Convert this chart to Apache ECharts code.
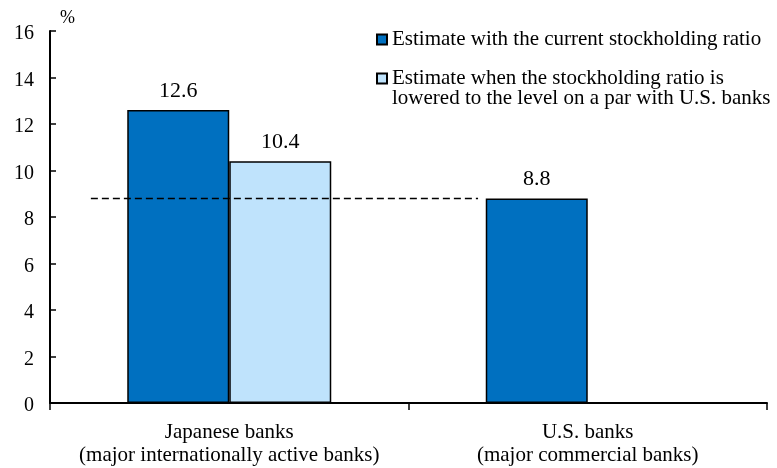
<!DOCTYPE html>
<html>
<head>
<meta charset="utf-8">
<script src="https://cdn.jsdelivr.net/npm/echarts@6/dist/echarts.min.js"></script>
<style>
  html, body { margin: 0; padding: 0; background: #fff; }
  #chart { width: 777px; height: 468px; }
</style>
</head>
<body>
<div id="chart"></div>
<script>
// Categories and series values
const categories = [
  'Japanese banks\n(major internationally active banks)',
  'U.S. banks\n(major commercial banks)'
];
const currentRatio = [12.6, 8.8];
const loweredRatio = [10.4, null];
const seriesNames = [
  'Estimate with the current stockholding ratio',
  'Estimate when the stockholding ratio is\nlowered to the level on a par with U.S. banks'
];
// Reference level (U.S. banks) drawn as a dashed line
const referenceLevel = 8.8;
const referenceSpan = [0.057, 0.597];

const FONT = 'Liberation Serif';
const chart = echarts.init(document.getElementById('chart'));

const barBase = {
  type: 'bar',
  barWidth: 102,
  barGap: '0%',
  label: {
    show: true,
    position: 'top',
    distance: 8,
    fontFamily: FONT,
    fontSize: 22,
    color: '#000'
  }
};

const legendText = { fontFamily: FONT, fontSize: 21, color: '#000', lineHeight: 20 };

chart.setOption({
  animation: false,
  textStyle: { fontFamily: FONT },
  grid: { left: 50, right: 10, top: 31, bottom: 65 },
  legend: [
    {
      data: [seriesNames[0]],
      left: 376, top: 29, padding: 0,
      itemWidth: 10, itemHeight: 10,
      icon: 'rect',
      textStyle: legendText
    },
    {
      data: [seriesNames[1]],
      left: 376, top: 48, padding: 0,
      itemWidth: 10, itemHeight: 10,
      icon: 'rect',
      // leading blank line keeps the icon level with the first text line
      formatter: name => '\n' + name,
      textStyle: legendText
    }
  ],
  xAxis: [
    {
      type: 'category',
      data: categories,
      axisLine: { lineStyle: { color: '#000', width: 2 } },
      axisTick: { show: true, interval: 0, length: 7, lineStyle: { color: '#000', width: 1.5 } },
      axisLabel: {
        interval: 0, hideOverlap: false,
        fontFamily: FONT, fontSize: 21, color: '#000',
        lineHeight: 23, margin: 18
      }
    },
    {
      type: 'value', min: 0, max: 1, show: false
    }
  ],
  yAxis: {
    type: 'value',
    min: 0, max: 16, interval: 2,
    name: '%',
    nameLocation: 'end',
    nameGap: 4,
    nameTextStyle: { fontFamily: FONT, fontSize: 18, color: '#000', align: 'left', padding: [0, 0, 0, 10] },
    axisLine: { show: true, lineStyle: { color: '#000', width: 2 } },
    axisTick: { show: true, inside: true, length: 6, lineStyle: { color: '#000', width: 1.5 } },
    axisLabel: {
      fontFamily: FONT, fontSize: 20, color: '#000', margin: 16,
      verticalAlign: 'top', lineHeight: 6
    },
    splitLine: { show: false }
  },
  series: [
    Object.assign({}, barBase, {
      name: seriesNames[0],
      data: currentRatio,
      itemStyle: { color: '#0070C0', borderColor: '#000', borderWidth: 1.5 }
    }),
    Object.assign({}, barBase, {
      name: seriesNames[1],
      data: loweredRatio,
      itemStyle: { color: '#BFE3FC', borderColor: '#000', borderWidth: 1.5 }
    }),
    {
      type: 'line',
      xAxisIndex: 1,
      data: referenceSpan.map(x => [x, referenceLevel]),
      symbol: 'none',
      silent: true,
      z: 5,
      lineStyle: { color: '#000', width: 1.5, type: [7, 4] }
    }
  ]
});
</script>
</body>
</html>
